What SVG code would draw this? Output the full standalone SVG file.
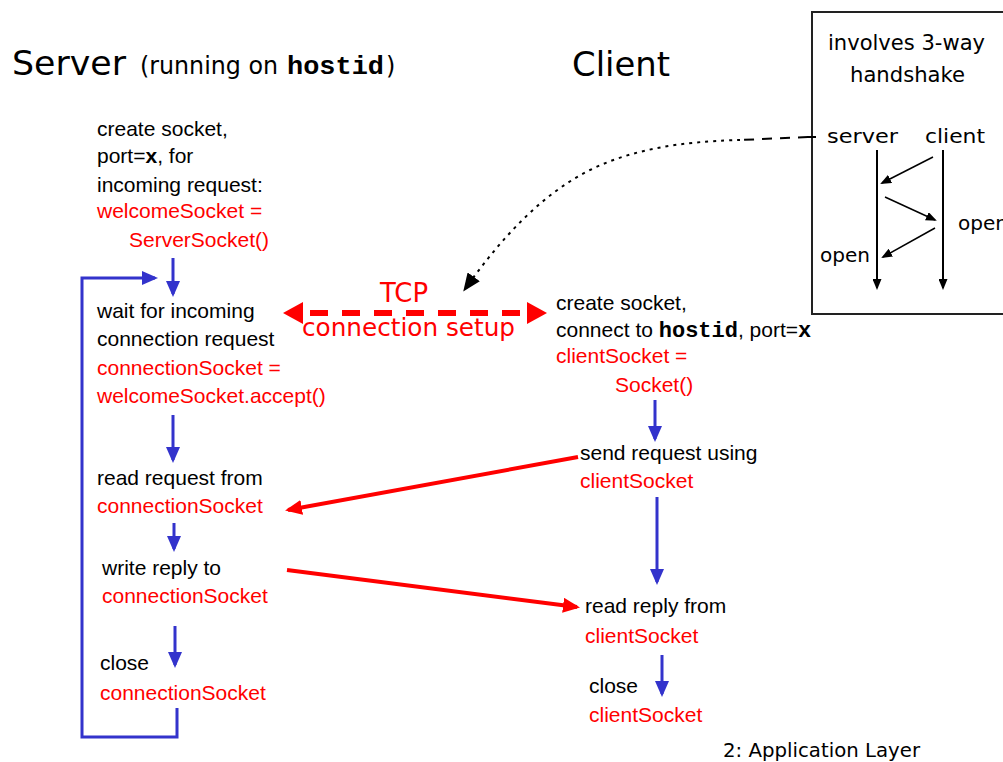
<svg xmlns="http://www.w3.org/2000/svg" width="1003" height="762" viewBox="0 0 1003 762">
<style>
.t{font-family:"Liberation Sans",Arial,sans-serif;font-size:21px;fill:#000}
.r{fill:#ff0000}
.mb{font-family:"Liberation Mono","Courier New",monospace;font-weight:bold}
.sb{font-weight:bold}
.h{font-family:"DejaVu Sans",sans-serif;fill:#000}
.blue{stroke:#3333cc;stroke-width:3;fill:none}
.red{stroke:#ff0000;stroke-width:4;fill:none}
.thin{stroke:#000;stroke-width:1.5;fill:none}
</style>
<defs>
<marker id="ab" markerUnits="userSpaceOnUse" markerWidth="16" markerHeight="14" refX="13" refY="7" orient="auto"><path d="M0,0 L16,7 L0,14 Z" fill="#3333cc"/></marker>
<marker id="ar" markerUnits="userSpaceOnUse" markerWidth="17" markerHeight="15" refX="14" refY="7.5" orient="auto"><path d="M0,0 L17,7.5 L0,15 Z" fill="#ff0000"/></marker>
<marker id="ak" markerUnits="userSpaceOnUse" markerWidth="18" markerHeight="15" refX="15" refY="7.5" orient="auto"><path d="M0,0 L18,7.5 L0,15 Z" fill="#000"/></marker>
<marker id="as" markerUnits="userSpaceOnUse" markerWidth="11" markerHeight="9" refX="9" refY="4.5" orient="auto"><path d="M0,0 L11,4.5 L0,9 Z" fill="#000"/></marker>
</defs>

<g id="titles">
<text class="h" x="12" y="75" font-size="34" textLength="114" lengthAdjust="spacingAndGlyphs">Server</text>
<text class="h" x="140" y="74" font-size="24" textLength="138" lengthAdjust="spacingAndGlyphs">(running on</text>
<text class="mb" x="287" y="74" font-size="26" textLength="97" lengthAdjust="spacingAndGlyphs">hostid</text>
<text class="h" x="386" y="74" font-size="24">)</text>
<text class="h" x="572" y="76" font-size="34" textLength="98" lengthAdjust="spacingAndGlyphs">Client</text>
<text class="h" x="723" y="757" font-size="20" textLength="197" lengthAdjust="spacingAndGlyphs">2: Application Layer</text>
</g>

<g id="handshake-box">
<rect x="812" y="12" width="200" height="302" fill="none" stroke="#222" stroke-width="2"/>
<text class="h" x="828" y="50" font-size="21" textLength="157" lengthAdjust="spacingAndGlyphs">involves 3-way</text>
<text class="h" x="850" y="82" font-size="21" textLength="115" lengthAdjust="spacingAndGlyphs">handshake</text>
<text class="h" x="827" y="143" font-size="20" textLength="71" lengthAdjust="spacingAndGlyphs">server</text>
<text class="h" x="925" y="143" font-size="20" textLength="60" lengthAdjust="spacingAndGlyphs">client</text>
<text class="h" x="958" y="230" font-size="20" textLength="50" lengthAdjust="spacingAndGlyphs">open</text>
<text class="h" x="820" y="262" font-size="20" textLength="50" lengthAdjust="spacingAndGlyphs">open</text>
<line x1="877" y1="150" x2="877" y2="288" stroke="#000" stroke-width="2" marker-end="url(#as)"/>
<line x1="943" y1="150" x2="943" y2="288" stroke="#000" stroke-width="2" marker-end="url(#as)"/>
<line class="thin" x1="933" y1="157" x2="882" y2="183" marker-end="url(#as)"/>
<line class="thin" x1="885" y1="197" x2="935" y2="220" marker-end="url(#as)"/>
<line class="thin" x1="935" y1="228" x2="883" y2="257" marker-end="url(#as)"/>
</g>

<g id="server-create">
<text class="t" x="97" y="136">create socket,</text>
<text class="t" x="97" y="163">port=<tspan class="sb">x</tspan>, for</text>
<text class="t" x="97" y="192">incoming request:</text>
<text class="t r" x="97" y="218">welcomeSocket =</text>
<text class="t r" x="129" y="247">ServerSocket()</text>
</g>

<g id="server-wait">
<text class="t" x="97" y="318">wait for incoming</text>
<text class="t" x="97" y="346">connection request</text>
<text class="t r" x="97" y="375">connectionSocket =</text>
<text class="t r" x="97" y="403">welcomeSocket.accept()</text>
</g>

<g id="server-read">
<text class="t" x="97" y="485">read request from</text>
<text class="t r" x="97" y="513">connectionSocket</text>
</g>

<g id="server-write">
<text class="t" x="102" y="575">write reply to</text>
<text class="t r" x="102" y="603">connectionSocket</text>
</g>

<g id="server-close">
<text class="t" x="100" y="670">close</text>
<text class="t r" x="100" y="700">connectionSocket</text>
</g>

<g id="client-create">
<text class="t" x="556" y="310">create socket,</text>
<text class="t" x="556" y="337">connect to <tspan class="mb" font-size="22">hostid</tspan>, port=<tspan class="mb" font-size="22">x</tspan></text>
<text class="t r" x="556" y="363">clientSocket =</text>
<text class="t r" x="615" y="392">Socket()</text>
</g>

<g id="client-send">
<text class="t" x="580" y="460">send request using</text>
<text class="t r" x="580" y="488">clientSocket</text>
</g>

<g id="client-read">
<text class="t" x="585" y="613">read reply from</text>
<text class="t r" x="585" y="643">clientSocket</text>
</g>

<g id="client-close">
<text class="t" x="589" y="693">close</text>
<text class="t r" x="589" y="722">clientSocket</text>
</g>

<g id="tcp-label">
<text class="h" x="380" y="302" font-size="26" fill="#ff0000" style="fill:#ff0000" textLength="48" lengthAdjust="spacingAndGlyphs">TCP</text>
<text class="h" x="302" y="336" font-size="25" style="fill:#ff0000" textLength="213" lengthAdjust="spacingAndGlyphs">connection setup</text>
</g>

<g id="connectors">
<line class="blue" x1="173" y1="258" x2="173" y2="294" marker-end="url(#ab)"/>
<line class="blue" x1="173" y1="415" x2="173" y2="460" marker-end="url(#ab)"/>
<line class="blue" x1="174" y1="523" x2="174" y2="549" marker-end="url(#ab)"/>
<line class="blue" x1="175" y1="626" x2="175" y2="665" marker-end="url(#ab)"/>
<polyline class="blue" points="177,708 177,737 82,737 82,278 155,278" marker-end="url(#ab)"/>
<line class="blue" x1="655" y1="400" x2="655" y2="439" marker-end="url(#ab)"/>
<line class="blue" x1="657" y1="497" x2="657" y2="582" marker-end="url(#ab)"/>
<line class="blue" x1="662" y1="655" x2="662" y2="694" marker-end="url(#ab)"/>
<line class="red" x1="578" y1="457" x2="288" y2="510" marker-end="url(#ar)"/>
<line class="red" x1="287" y1="570" x2="577" y2="607" marker-end="url(#ar)"/>
<line x1="303" y1="313" x2="527" y2="313" stroke="#ff0000" stroke-width="6" stroke-dasharray="18 14" stroke-dashoffset="-7"/>
<path d="M283,313 L303,302 L303,324 Z" fill="#ff0000"/>
<path d="M547,313 L527,302 L527,324 Z" fill="#ff0000"/>
<line x1="808" y1="137" x2="740" y2="140" stroke="#000" stroke-width="2" stroke-dasharray="10 8"/>
<path d="M740,140 C700,141 640,145 590,170 S500,240 465,289" fill="none" stroke="#000" stroke-width="2" stroke-dasharray="3 5" marker-end="url(#ak)"/>
<line x1="807" y1="137" x2="816" y2="137" stroke="#000" stroke-width="2"/>
</g>
</svg>
